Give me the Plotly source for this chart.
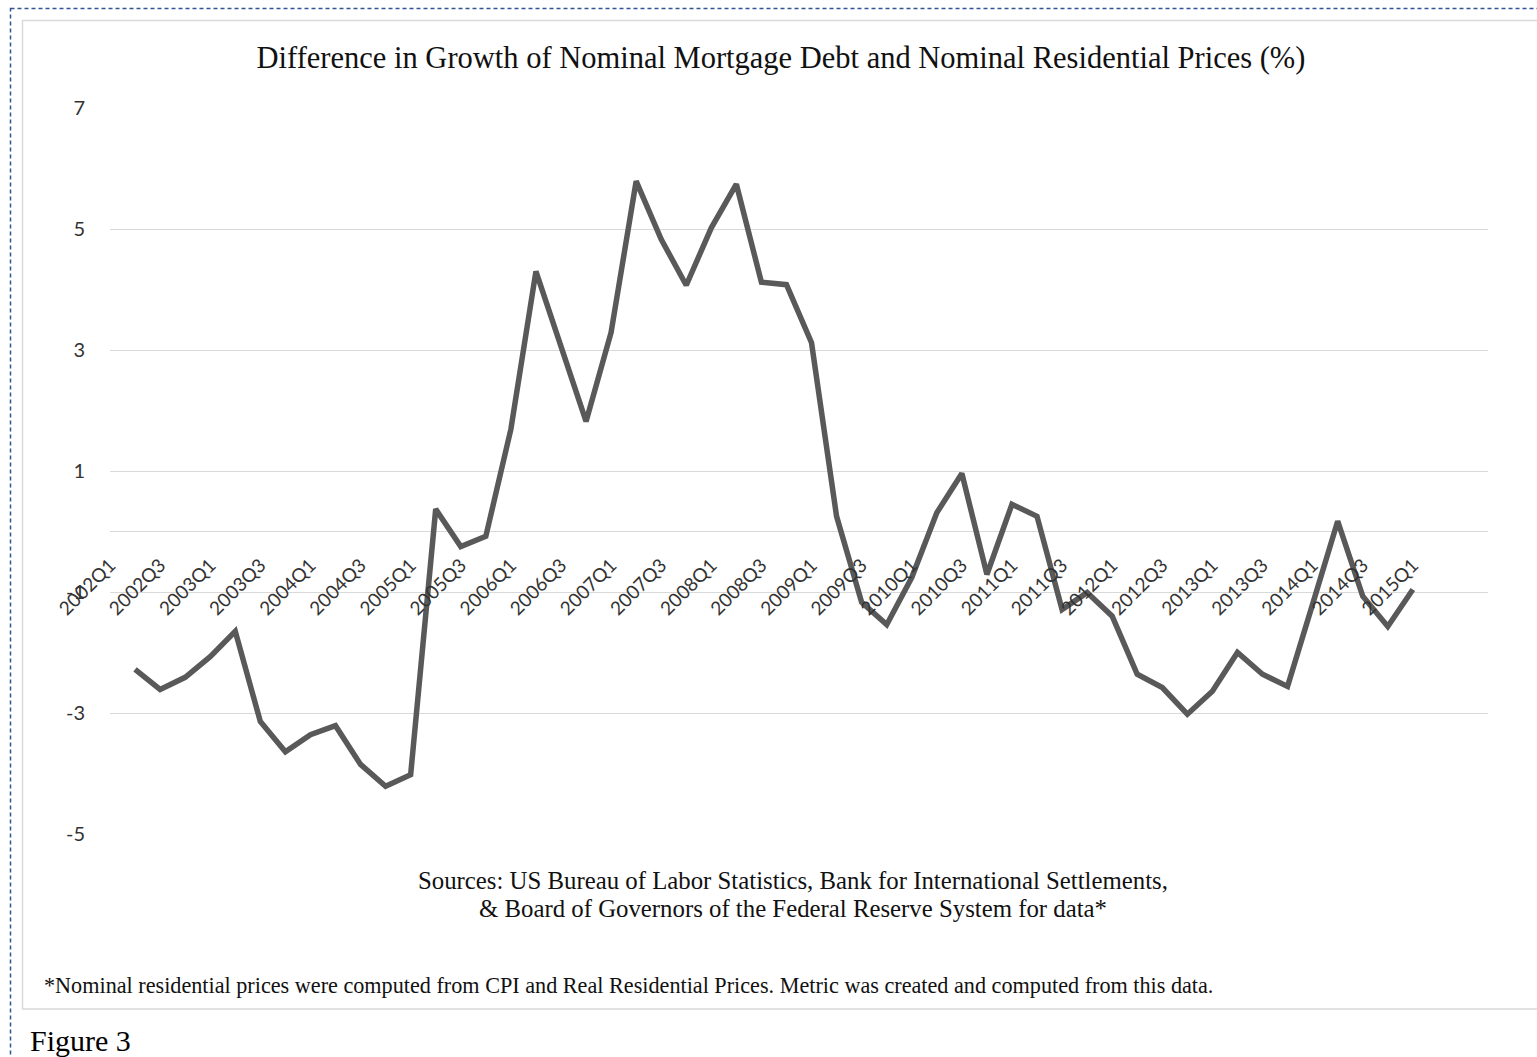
import plotly.graph_objects as go

# ---- data ----
years = list(range(2002, 2016))
all_quarters = [f"{y}Q{q}" for y in years for q in range(1, 5)]  # axis categories 2002Q1..2015Q4

quarters = all_quarters[1:53]  # 2002Q2 .. 2015Q1
values = [
    -2.28, -2.61, -2.41,                 # 2002Q2-Q4
    -2.07, -1.65, -3.14, -3.64,          # 2003
    -3.36, -3.21, -3.85, -4.21,          # 2004
    -4.02, 0.37, -0.25, -0.08,           # 2005
    1.69, 4.30, 3.05, 1.82,              # 2006
    3.29, 5.79, 4.83, 4.07,              # 2007
    5.02, 5.74, 4.12, 4.08,              # 2008
    3.12, 0.25, -1.17, -1.54,            # 2009
    -0.76, 0.31, 0.96, -0.71,            # 2010
    0.45, 0.25, -1.29, -1.01,            # 2011
    -1.40, -2.36, -2.58, -3.02,          # 2012
    -2.64, -2.00, -2.36, -2.56,          # 2013
    -1.20, 0.17, -1.07, -1.57,           # 2014
    -0.96,                               # 2015Q1
]
tick_labels = all_quarters[0:53:2]      # 2002Q1, 2002Q3, ..., 2015Q1
y_ticks = [-5, -3, -1, 1, 3, 5, 7]
y_tick_text = ["-5", "-3", "-1", "1", "3", "5", "7"]

title_text = "Difference in Growth of Nominal Mortgage Debt and Nominal Residential Prices (%)"
source_line1 = "Sources: US Bureau of Labor Statistics, Bank for International Settlements,"
source_line2 = "&amp; Board of Governors of the Federal Reserve System for data*"
foot_text = ("*Nominal residential prices were computed from CPI and Real Residential Prices. "
             "Metric was created and computed from this data.")
figure_label = "Figure 3"

# ---- layout geometry (pixels) ----
W, H = 1537, 1057
L, R, T, B = 110, 49, 108, 223
PW, PH = W - L - R, H - T - B


def px(x):
    return (x - L) / PW


def py(y):
    return (H - B - y) / PH


x_pos = [all_quarters.index(q) for q in quarters]
tick_pos = [all_quarters.index(q) for q in tick_labels]

fig = go.Figure()
fig.add_trace(go.Scatter(
    x=x_pos, y=values, mode="lines",
    line=dict(color="#595959", width=5.5),
    hoverinfo="skip", showlegend=False,
))

serif = "Liberation Serif, Times New Roman, serif"
sans = "Lato, Carlito, Calibri, sans-serif"

fig.update_layout(
    width=W, height=H,
    margin=dict(l=L, r=R, t=T, b=B, pad=0),
    paper_bgcolor="white", plot_bgcolor="white",
    title=dict(text=title_text, x=781 / W, xref="container", xanchor="center",
               y=1 - 57 / H, yref="container", yanchor="middle",
               font=dict(family=serif, size=30.5, color="#111111")),
    xaxis=dict(
        range=[0, 55], tickmode="array", tickvals=tick_pos, ticktext=tick_labels,
        tickangle=-45, showgrid=False, zeroline=False, showline=False,
        anchor="free", position=5 / 12, ticks="", ticklabelstandoff=18,
        tickfont=dict(family=sans, size=19, color="#333333"),
    ),
    yaxis=dict(
        range=[-5, 7], tickmode="array", tickvals=y_ticks, ticktext=y_tick_text,
        showgrid=True, gridcolor="#D9D9D9", gridwidth=1,
        zeroline=True, zerolinecolor="#D9D9D9", zerolinewidth=1,
        showline=False, ticks="", ticklabelstandoff=24,
        tickfont=dict(family=sans, size=20, color="#333333"),
    ),
    shapes=[
        # chart area border
        dict(type="rect", xref="paper", yref="paper",
             x0=px(22.5), x1=px(1560), y0=py(20.5), y1=py(1009),
             line=dict(color="#D9D9D9", width=1.5), layer="below"),
        # dashed outer frame
        dict(type="rect", xref="paper", yref="paper",
             x0=px(10.5), x1=px(1580), y0=py(8.5), y1=py(1090),
             line=dict(color="#2F5597", width=1.5, dash="4px,3px"), layer="below"),
    ],
    annotations=[
        dict(text=source_line1, xref="paper", yref="paper", x=px(793), y=py(880),
             xanchor="center", yanchor="middle", showarrow=False, align="center",
             font=dict(family=serif, size=24.8, color="#111111")),
        dict(text=source_line2, xref="paper", yref="paper", x=px(793), y=py(908),
             xanchor="center", yanchor="middle", showarrow=False, align="center",
             font=dict(family=serif, size=24.8, color="#111111")),
        dict(text=foot_text, xref="paper", yref="paper", x=px(42), y=py(986),
             xanchor="left", yanchor="middle", showarrow=False, align="left",
             font=dict(family=serif, size=22.2, color="#111111")),
        dict(text=figure_label, xref="paper", yref="paper", x=px(28), y=py(1040),
             xanchor="left", yanchor="middle", showarrow=False, align="left",
             font=dict(family=serif, size=30, color="#000000")),
    ],
)

fig.write_html("out.html", config={"displayModeBar": False},
               post_script="document.body.style.margin='0';document.body.style.overflow='hidden';")
